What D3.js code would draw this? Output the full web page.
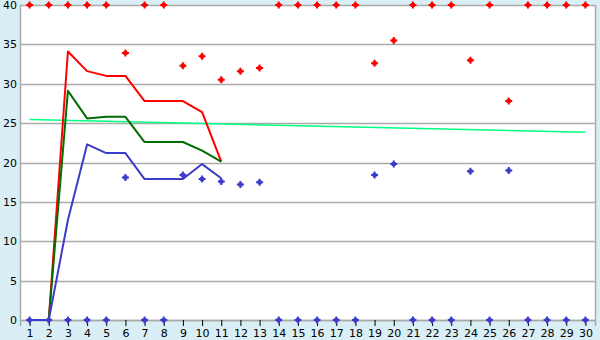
<!DOCTYPE html>
<html><head><meta charset="utf-8">
<script src="https://cdn.jsdelivr.net/npm/d3@7"></script>
<style>
html,body{margin:0;padding:0;background:#daeef5;}
svg{display:block;font-family:"DejaVu Sans",Verdana,sans-serif;}
</style></head><body>
<svg id="c" width="600" height="340"></svg>
<script>
const categories = d3.range(1, 31);
const yTicks = [0,5,10,15,20,25,30,35,40];
const lineX = [1,2,3,4,5,6,7,8,9,10,11];
const redLine   = [0,0,34.1,31.6,31.0,31.0,27.8,27.8,27.8,26.4,20.1];
const greenLine = [0,0,29.1,25.6,25.8,25.8,22.6,22.6,22.6,21.5,20.1];
const blueLine  = [0,0,12.7,22.3,21.2,21.2,17.9,17.9,17.9,19.8,18.0];
const redPoints  = [40,40,40,40,40,33.9,40,40,32.3,33.5,30.5,31.6,32.0,40,40,40,40,40,32.6,35.5,40,40,40,33.0,40,27.8,40,40,40,40];
const bluePoints = [0,0,0,0,0,18.1,0,0,18.4,17.9,17.6,17.2,17.5,0,0,0,0,0,18.4,19.8,0,0,0,18.9,0,19.0,0,0,0,0];
const trendX = [1,30];
const trendY = [25.45,23.85];

const svg = d3.select("#c");
const x = d3.scaleLinear().domain([0.5,30.5]).range([20,595]);
const y = d3.scaleLinear().domain([0,40]).range([320,5]);

svg.append("rect").attr("x",0).attr("y",0).attr("width",600).attr("height",340).attr("fill","#daeef5");
svg.append("rect").attr("x",x(0.5)).attr("y",y(40)).attr("width",x(30.5)-x(0.5)).attr("height",y(0)-y(40)).attr("fill","#ffffff");

// grid
svg.append("g").selectAll("line").data(yTicks).join("line")
  .attr("x1",x(0.5)).attr("x2",x(30.5))
  .attr("y1",d=>Math.round(y(d))+0.5).attr("y2",d=>Math.round(y(d))+0.5)
  .attr("stroke","#aaaaaa").attr("stroke-width",1.5);
// right border & left axis
svg.append("line").attr("x1",x(30.5)+0.5).attr("x2",x(30.5)+0.5).attr("y1",y(40)).attr("y2",y(0)).attr("stroke","#aaaaaa").attr("stroke-width",1.5);
svg.append("line").attr("x1",x(0.5)+0.5).attr("x2",x(0.5)+0.5).attr("y1",y(40)).attr("y2",y(0)).attr("stroke","#aaaaaa").attr("stroke-width",1.5);

// y axis labels
const ya = svg.append("g").attr("transform",`translate(${x(0.5)},0)`)
  .call(d3.axisLeft(y).tickValues(yTicks).tickSize(0).tickPadding(3));
ya.select(".domain").remove();
ya.selectAll("text").attr("font-size",11).attr("fill","#000").attr("font-family","DejaVu Sans");

// x axis
const xa = svg.append("g").attr("transform",`translate(0,${y(0)})`)
  .call(d3.axisBottom(x).tickValues(categories).tickFormat(d3.format("d")).tickSize(6).tickPadding(3));
xa.select(".domain").attr("stroke","#aaaaaa").attr("stroke-width",1.5);
xa.selectAll(".tick line").attr("stroke","#000");
xa.selectAll("text").attr("font-size",11).attr("fill","#000").attr("font-family","DejaVu Sans");

// trend line
svg.append("path").datum(trendX.map((d,i)=>[d,trendY[i]]))
  .attr("d",d3.line().x(d=>x(d[0])).y(d=>y(d[1])))
  .attr("fill","none").attr("stroke","#00ff80").attr("stroke-width",1.5);

const line = d3.line().x(d=>x(d[0])).y(d=>y(d[1]));
[[redLine,"#ff0000"],[greenLine,"#006e00"],[blueLine,"#3c3ccc"]].forEach(([vals,col])=>{
  svg.append("path").datum(lineX.map((d,i)=>[d,vals[i]]))
    .attr("d",line).attr("fill","none").attr("stroke",col).attr("stroke-width",2)
    .attr("stroke-linejoin","round");
});

const marker = "M-1,-3.5H1V-2H2V-1H3.5V1H2V2H1V3.5H-1V2H-2V1H-3.5V-1H-2V-2H-1Z";
[[redPoints,"#ff0000"],[bluePoints,"#3c3ccc"]].forEach(([vals,col])=>{
  svg.append("g").selectAll("path").data(vals).join("path")
    .attr("transform",(d,i)=>`translate(${x(categories[i])},${y(d)})`)
    .attr("d",marker).attr("fill",col);
});
</script>
</body></html>
